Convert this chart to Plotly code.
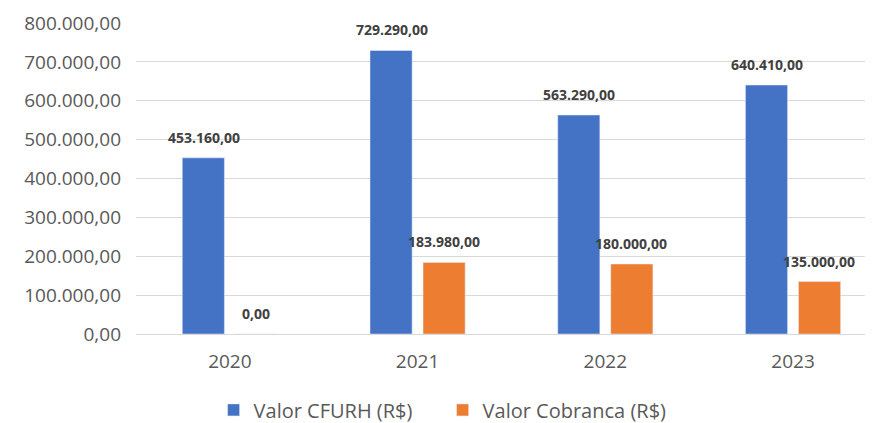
import plotly.graph_objects as go

years = ["2020", "2021", "2022", "2023"]
cfurh = [453160, 729290, 563290, 640410]
cobranca = [0, 183980, 180000, 135000]
series_names = ["Valor CFURH (R$)", "Valor Cobranca (R$)"]
colors = ["#4472C4", "#ED7D31"]

def fmt(v):
    s = f"{v:,.2f}"
    return s.replace(",", "X").replace(".", ",").replace("X", ".")

fig = go.Figure()
for name, vals, col in zip(series_names, [cfurh, cobranca], colors):
    fig.add_trace(go.Bar(x=years, y=vals, name=name, marker_color=col,
                         hoverinfo="skip"))

for vals, xs in [(cfurh, -26), (cobranca, 26)]:
    for i, v in enumerate(vals):
        fig.add_annotation(x=i, y=v, xref="x", yref="y", text=f"<b>{fmt(v)}</b>",
                           showarrow=False, xshift=xs, yshift=9, yanchor="bottom",
                           font=dict(family="Open Sans", size=14, color="#404040"))

# page body has an 8px default margin, so the figure is offset by 8px
fig.update_layout(
    width=865, height=415,
    margin=dict(l=128, r=0, t=15, b=89, autoexpand=False),
    paper_bgcolor="white", plot_bgcolor="white",
    barmode="group", bargap=0.435, bargroupgap=0.206,
    separators=",.",
    font=dict(family="Open Sans", size=19, color="#595959"),
    legend=dict(orientation="h", x=0.416, xanchor="center",
                y=-0.244, yanchor="middle", font=dict(size=20, color="#595959"),
                traceorder="normal", entrywidth=184, entrywidthmode="pixels",
                itemwidth=30),
    showlegend=True,
)
fig.update_xaxes(type="category", range=[-0.5, 3.426], showgrid=False,
                 showline=False, ticks="", ticklabelstandoff=14)
fig.update_yaxes(range=[0, 800000], dtick=100000, tickformat=",.2f",
                 showgrid=True, gridcolor="#D9D9D9", gridwidth=1,
                 zeroline=True, zerolinecolor="#D9D9D9", zerolinewidth=1,
                 ticklabelstandoff=14, showline=False)

fig.write_html("out.html")
